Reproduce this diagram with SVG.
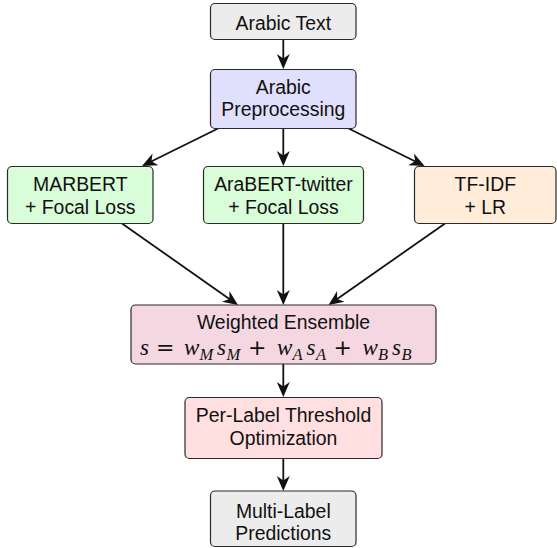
<svg xmlns="http://www.w3.org/2000/svg" width="557" height="548" viewBox="0 0 557 548">
<defs>
<style>
.box{stroke:#2a2a2a;stroke-width:1.2}
.t{font-family:"Liberation Sans",Arial,sans-serif;font-size:19.4px;fill:#111;text-anchor:middle}
.m{font-family:"Liberation Serif","Times New Roman",serif;font-style:italic;font-size:23px;fill:#111}
.sub{font-size:16.5px}
.op{font-family:"DejaVu Sans","Liberation Sans",sans-serif;font-style:normal;font-weight:normal;font-size:22px;fill:#111}
.edge{stroke:#111;stroke-width:1.8;fill:none;marker-end:url(#arr)}
</style>
<marker id="arr" viewBox="-12 -8 17 16" refX="0" refY="0" markerWidth="17" markerHeight="16" markerUnits="userSpaceOnUse" orient="auto">
<path d="M4,0 L-11,-6.5 L-6.5,0 L-11,6.5 Z" fill="#111"/>
</marker>
</defs>
<g id="connectors">
<line class="edge" x1="283.3" y1="39.5" x2="283.3" y2="65"/>
<line class="edge" x1="218" y1="128.5" x2="145.6" y2="164.2"/>
<line class="edge" x1="283.3" y1="128.5" x2="283.3" y2="162"/>
<line class="edge" x1="348.6" y1="128.5" x2="421" y2="164.2"/>
<line class="edge" x1="122" y1="223.5" x2="234.7" y2="302.7"/>
<line class="edge" x1="283.3" y1="223.5" x2="283.3" y2="301"/>
<line class="edge" x1="445" y1="223.5" x2="331.8" y2="302.7"/>
<line class="edge" x1="283.3" y1="364" x2="283.3" y2="393"/>
<line class="edge" x1="283.3" y1="458.5" x2="283.3" y2="487"/>
</g>
<g id="arabic-text">
<rect class="box" x="210.5" y="3.5" width="145.5" height="36" rx="4.5" fill="#ececec"/>
<text class="t" x="283.3" y="29.5">Arabic Text</text>
</g>
<g id="preprocessing">
<rect class="box" x="210.5" y="69.5" width="145.5" height="59" rx="4.5" fill="#e0e0fd"/>
<text class="t" x="283.3" y="93.5">Arabic</text>
<text class="t" x="283.3" y="116">Preprocessing</text>
</g>
<g id="marbert">
<rect class="box" x="7.5" y="166.5" width="145.5" height="57" rx="4.5" fill="#d9fdd9"/>
<text class="t" x="80.3" y="191">MARBERT</text>
<text class="t" x="80.3" y="214">+ Focal Loss</text>
</g>
<g id="arabert">
<rect class="box" x="203.5" y="166.5" width="160" height="57" rx="4.5" fill="#d9fdd9"/>
<text class="t" x="283.5" y="191">AraBERT-twitter</text>
<text class="t" x="283.5" y="214">+ Focal Loss</text>
</g>
<g id="tfidf">
<rect class="box" x="414.5" y="166.5" width="141.5" height="57" rx="4.5" fill="#ffecd9"/>
<text class="t" x="485.3" y="191">TF-IDF</text>
<text class="t" x="485.3" y="214">+ LR</text>
</g>
<g id="ensemble">
<rect class="box" x="131" y="305" width="305" height="59" rx="4.5" fill="#f4d7e1"/>
<text class="t" x="283.5" y="329">Weighted Ensemble</text>
<text class="m"><tspan x="140" y="355">s</tspan><tspan class="op" x="156" y="355">=</tspan><tspan x="184" y="355">w</tspan><tspan class="sub" x="199.5" y="359.5">M</tspan><tspan x="217" y="355">s</tspan><tspan class="sub" x="226.5" y="359.5">M</tspan><tspan class="op" x="248" y="355">+</tspan><tspan x="277" y="355">w</tspan><tspan class="sub" x="292.5" y="359.5">A</tspan><tspan x="306.5" y="355">s</tspan><tspan class="sub" x="316" y="359.5">A</tspan><tspan class="op" x="333.5" y="355">+</tspan><tspan x="362.5" y="355">w</tspan><tspan class="sub" x="378" y="359.5">B</tspan><tspan x="392" y="355">s</tspan><tspan class="sub" x="401.5" y="359.5">B</tspan></text>
</g>
<g id="threshold">
<rect class="box" x="185" y="397.5" width="197" height="61" rx="4.5" fill="#ffdfdf"/>
<text class="t" x="283.5" y="422">Per-Label Threshold</text>
<text class="t" x="283.5" y="444.5">Optimization</text>
</g>
<g id="predictions">
<rect class="box" x="210.5" y="491" width="145.5" height="55.5" rx="4.5" fill="#ececec"/>
<text class="t" x="283.3" y="518">Multi-Label</text>
<text class="t" x="283.3" y="540">Predictions</text>
</g>
</svg>
